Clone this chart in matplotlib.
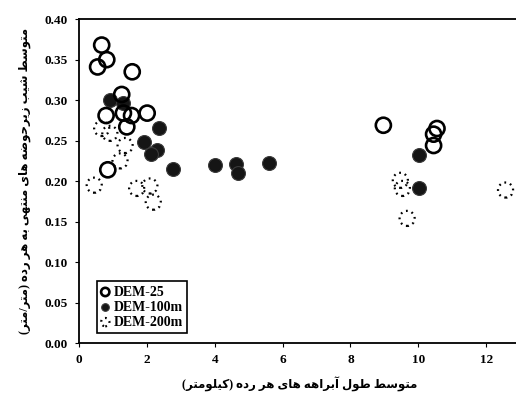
import matplotlib
matplotlib.use("Agg")
import matplotlib.pyplot as plt

# data
dem25_x = [0.67, 0.82, 0.55, 1.57, 1.26, 0.80, 1.31, 1.55, 2.01, 1.41, 0.85, 8.97, 10.55, 10.45, 10.45]
dem25_y = [0.368, 0.350, 0.341, 0.335, 0.307, 0.281, 0.284, 0.281, 0.284, 0.267, 0.214, 0.269, 0.265, 0.258, 0.244]

dem100_x = [0.91, 1.29, 2.36, 1.92, 2.29, 2.12, 2.78, 4.01, 4.62, 4.68, 5.61, 10.01, 10.01]
dem100_y = [0.300, 0.297, 0.266, 0.248, 0.238, 0.233, 0.215, 0.220, 0.221, 0.210, 0.223, 0.232, 0.192]

dem200_x = [0.67, 0.91, 1.36, 1.21, 0.45, 1.70, 2.09, 2.19, 9.47, 9.53, 9.67, 12.57]
dem200_y = [0.265, 0.259, 0.244, 0.225, 0.195, 0.191, 0.194, 0.174, 0.201, 0.191, 0.154, 0.189]

labels = ["DEM-25", "DEM-100m", "DEM-200m"]
xticks = [0, 2, 4, 6, 8, 10, 12]
yticks = [0.00, 0.05, 0.10, 0.15, 0.20, 0.25, 0.30, 0.35, 0.40]
xlabel_fa = "متوسط طول آبراهه های هر رده (کیلومتر)"
ylabel_fa = "متوسط شیب زیرحوضه های منتهی به هر رده (متر/متر)"

# minimal persian shaping (no raqm in matplotlib): iso, fin, ini, med
FORMS = {
    "ا": ("\ufe8d", "\ufe8e"), "آ": ("\ufe81", "\ufe82"),
    "د": ("\ufea9", "\ufeaa"), "ر": ("\ufead", "\ufeae"),
    "ز": ("\ufeaf", "\ufeb0"), "و": ("\ufeed", "\ufeee"),
    "ب": ("\ufe8f", "\ufe90", "\ufe91", "\ufe92"),
    "ت": ("\ufe95", "\ufe96", "\ufe97", "\ufe98"),
    "ح": ("\ufea1", "\ufea2", "\ufea3", "\ufea4"),
    "س": ("\ufeb1", "\ufeb2", "\ufeb3", "\ufeb4"),
    "ش": ("\ufeb5", "\ufeb6", "\ufeb7", "\ufeb8"),
    "ض": ("\ufebd", "\ufebe", "\ufebf", "\ufec0"),
    "ط": ("\ufec1", "\ufec2", "\ufec3", "\ufec4"),
    "ل": ("\ufedd", "\ufede", "\ufedf", "\ufee0"),
    "م": ("\ufee1", "\ufee2", "\ufee3", "\ufee4"),
    "ن": ("\ufee5", "\ufee6", "\ufee7", "\ufee8"),
    "ه": ("\ufee9", "\ufeea", "\ufeeb", "\ufeec"),
    "ک": ("\ufb8e", "\ufb8f", "\ufb90", "\ufb91"),
    "ی": ("\ufbfc", "\ufbfd", "\ufbfe", "\ufbff"),
}


def shape(s):
    out = []
    for i, c in enumerate(s):
        if c not in FORMS:
            out.append(c)
            continue
        prev = s[i - 1] if i > 0 else ""
        nxt = s[i + 1] if i + 1 < len(s) else ""
        jp = prev in FORMS and len(FORMS[prev]) == 4
        jn = len(FORMS[c]) == 4 and nxt in FORMS
        f = FORMS[c]
        if jp and jn:
            out.append(f[3])
        elif jp:
            out.append(f[1])
        elif jn:
            out.append(f[2])
        else:
            out.append(f[0])
    mirror = {"(": ")", ")": "("}
    return "".join(mirror.get(c, c) for c in reversed(out))


plt.rcParams["font.family"] = ["Liberation Serif", "DejaVu Sans"]
plt.rcParams["font.weight"] = "bold"

fig = plt.figure(figsize=(5.16, 3.99), dpi=100)
ax = fig.add_axes([0.153, 0.140, 0.855, 0.812])

dotted = ax.scatter(dem200_x, dem200_y, s=118, facecolors="none", edgecolors="black",
                    linewidths=1.6, linestyles=(0, (0.8, 1.8)), zorder=2)
filled = ax.scatter(dem100_x, dem100_y, s=100, color="#151515", edgecolors="#3a3a3a",
                    linewidths=0.8, zorder=3)
opened = ax.scatter(dem25_x, dem25_y, s=118, facecolors="none", edgecolors="black",
                    linewidths=1.9, zorder=4)

ax.set_xlim(0, 13)
ax.set_ylim(0, 0.40)
ax.set_xticks(xticks)
ax.set_yticks(yticks)
ax.set_yticklabels(["%.2f" % v for v in yticks])
ax.tick_params(direction="out", length=3, width=0.8, labelsize=9.5, pad=5)
for lab in ax.get_xticklabels() + ax.get_yticklabels():
    lab.set_fontweight("bold")
ax.spines["right"].set_visible(False)
for sp in ["left", "bottom", "top"]:
    ax.spines[sp].set_linewidth(1.3)

ax.set_xlabel(shape(xlabel_fa), fontsize=8.5, fontweight="bold", labelpad=8)
ax.set_ylabel(shape(ylabel_fa), fontsize=8.5, fontweight="bold", labelpad=10)

leg = ax.legend([opened, filled, dotted], labels, loc="lower left",
                bbox_to_anchor=(0.025, 0.01), markerscale=0.55, handlelength=0.6,
                handletextpad=0.3, borderpad=0.3, labelspacing=0.15,
                fancybox=False, framealpha=1, edgecolor="black",
                prop={"size": 10, "weight": "bold"})
leg.get_frame().set_linewidth(1.2)

fig.savefig("out.png", dpi=100)
